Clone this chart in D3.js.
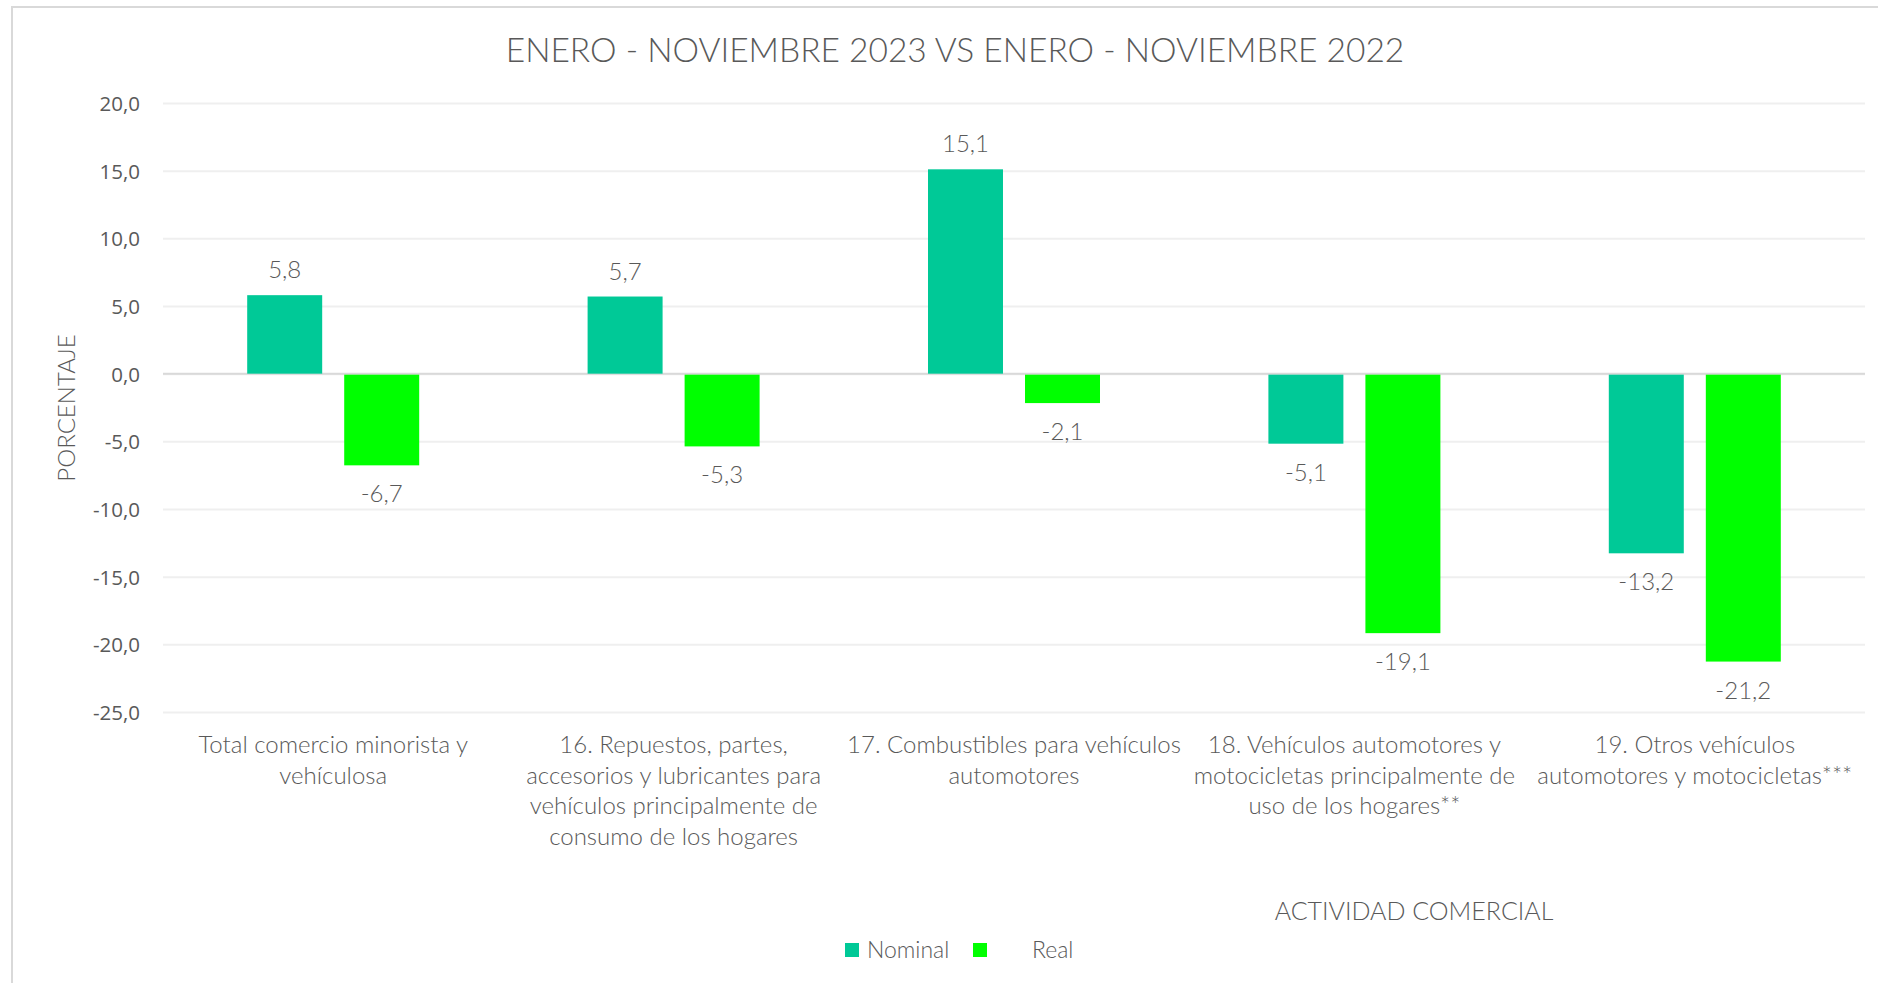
<!DOCTYPE html>
<html>
<head>
<meta charset="utf-8">
<script src="https://cdn.jsdelivr.net/npm/d3@7"></script>
<style>
  body { margin: 0; background: #fff; }
  .thin { font-family: Lato, "Open Sans", sans-serif; font-weight: 300; fill: #595959; }
  .axis--y text { font-family: "Open Sans", sans-serif; font-size: 20.5px; fill: #595959; }
  .axis--y line { stroke: #efefef; stroke-width: 2; }
  .axis--y .domain { display: none; }
</style>
</head>
<body>
<svg id="chart"></svg>
<script>
// enero-noviembre 2023 vs 2022, variacion por actividad

var categories = [
    "Total comercio minorista y\nvehículosa",
    "16. Repuestos, partes,\naccesorios y lubricantes para\nvehículos principalmente de\nconsumo de los hogares",
    "17. Combustibles para vehículos\nautomotores",
    "18. Vehículos automotores y\nmotocicletas principalmente de\nuso de los hogares**",
    "19. Otros vehículos\nautomotores y motocicletas***"
];
var series = ["Nominal", "Real"];
var nominal = [5.8, 5.7, 15.1, -5.1, -13.2];
var real = [-6.7, -5.3, -2.1, -19.1, -21.2];
var yTicks = [20, 15, 10, 5, 0, -5, -10, -15, -20, -25];

var colors = {"Nominal": "#00c997", "Real": "#00ff00"};

var W = 1878, H = 983;
var margin = {top: 103, left: 163, right: 13, bottom: 271};
var width = W - margin.left - margin.right;
var height = H - margin.top - margin.bottom;

var loc = d3.formatLocale({decimal: ",", thousands: ".", grouping: [3], currency: ["", ""], minus: "-"});
var fmt = loc.format(".1f");

var svg = d3.select("#chart").attr("width", W).attr("height", H);

// outer frame
svg.append("rect")
    .attr("x", 12).attr("y", 7)
    .attr("width", W).attr("height", H)
    .attr("fill", "none").attr("stroke", "#d9d9d9").attr("stroke-width", 2);

svg.append("text")
    .attr("class", "thin")
    .attr("x", 955).attr("y", 62)
    .attr("text-anchor", "middle")
    .style("font-size", "33.5px")
    .text("ENERO - NOVIEMBRE 2023 VS ENERO - NOVIEMBRE 2022");

var g = svg.append("g")
    .attr("transform", "translate(" + margin.left + "," + margin.top + ")");

var x0 = d3.scaleBand().domain(categories).range([0, width]).padding(0);
var bw = x0.bandwidth();
var x1 = d3.scaleBand().domain(series).range([bw / 2 - 86, bw / 2 + 86]).paddingInner(0.227).paddingOuter(0);
var y = d3.scaleLinear().domain([-25, 20]).range([height, 0]);

// grid + y labels
g.append("g")
    .attr("class", "axis axis--y")
    .call(d3.axisLeft(y).tickValues(yTicks).tickSize(-width).tickPadding(23).tickFormat(fmt))
    .selectAll("text").attr("dy", "0.36em");

// zero line
g.append("line")
    .attr("x1", 0).attr("x2", width)
    .attr("y1", y(0)).attr("y2", y(0))
    .attr("stroke", "#d9d9d9").attr("stroke-width", 2);

var rows = categories.map(function(c, i) {
    return {cat: c, vals: [{s: "Nominal", v: nominal[i]}, {s: "Real", v: real[i]}]};
});

var grp = g.selectAll(".grp").data(rows).enter().append("g")
    .attr("class", "grp")
    .attr("transform", function(d) { return "translate(" + x0(d.cat) + ",0)"; });

grp.selectAll("rect").data(function(d) { return d.vals; }).enter().append("rect")
    .attr("x", function(d) { return x1(d.s); })
    .attr("width", x1.bandwidth())
    .attr("y", function(d) { return d.v >= 0 ? y(d.v) : y(0) + 1; })
    .attr("height", function(d) { return Math.abs(y(d.v) - y(0)); })
    .attr("fill", function(d) { return colors[d.s]; });

grp.selectAll(".val").data(function(d) { return d.vals; }).enter().append("text")
    .attr("class", "val thin")
    .attr("x", function(d) { return x1(d.s) + x1.bandwidth() / 2; })
    .attr("y", function(d) { return d.v >= 0 ? y(d.v) - 17 : y(d.v) + 38; })
    .attr("text-anchor", "middle")
    .style("font-size", "24px")
    .text(function(d) { return fmt(d.v); });

// category labels
var xl = g.selectAll(".xlab").data(categories).enter().append("text")
    .attr("class", "xlab thin")
    .attr("text-anchor", "middle")
    .style("font-size", "24px")
    .attr("transform", function(d) { return "translate(" + (x0(d) + bw / 2) + "," + (height + 41) + ")"; });
xl.selectAll("tspan").data(function(d) { return d.split("\n"); }).enter().append("tspan")
    .attr("x", 0)
    .attr("y", function(d, i) { return i * 30.6; })
    .text(function(d) { return d; });

// axis titles
svg.append("text")
    .attr("class", "thin")
    .attr("transform", "translate(75,408) rotate(-90)")
    .attr("text-anchor", "middle")
    .style("font-size", "24px")
    .text("PORCENTAJE");

svg.append("text")
    .attr("class", "thin")
    .attr("x", 1414).attr("y", 920)
    .attr("text-anchor", "middle")
    .style("font-size", "25px")
    .text("ACTIVIDAD COMERCIAL");

// legend
var legX = [845, 973], legT = [867, 1032];
var leg = svg.selectAll(".leg").data(series).enter().append("g").attr("class", "leg");
leg.append("rect")
    .attr("x", function(d, i) { return legX[i]; })
    .attr("y", 943).attr("width", 14).attr("height", 14)
    .attr("fill", function(d) { return colors[d]; });
leg.append("text")
    .attr("class", "thin")
    .attr("x", function(d, i) { return legT[i]; })
    .attr("y", 958)
    .style("font-size", "23px")
    .text(function(d) { return d; });
</script>
</body>
</html>
